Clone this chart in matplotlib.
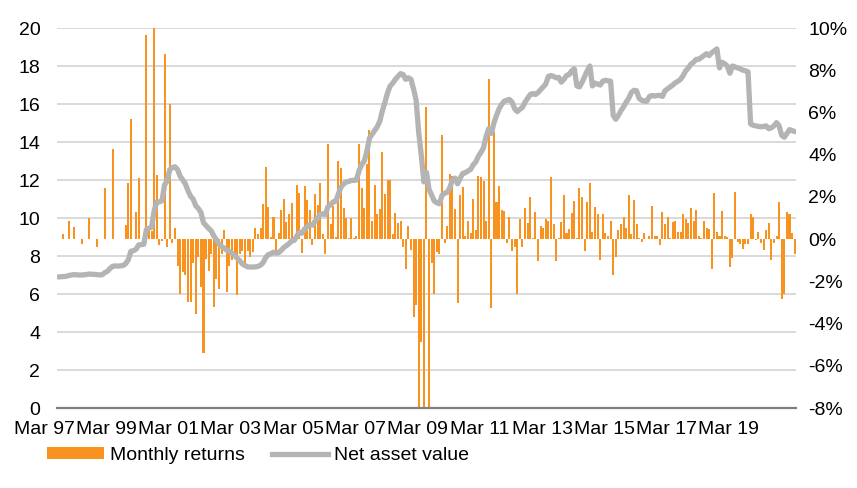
import matplotlib
matplotlib.use("Agg")
import matplotlib.pyplot as plt
import matplotlib.transforms as mtransforms
from matplotlib.patches import Patch
from matplotlib.lines import Line2D
import numpy as np

plt.rcParams['font.family'] = ['Liberation Sans', 'DejaVu Sans']

# ---- data (monthly, Mar 1997 .. Nov 2020) ----
returns = [
    0, 0, 0.22, 0, 0.88, 0, 0.57, 0, 0, -0.25,
    0, 0, 0.98, 0, 0, -0.38, 0, 0, 2.43, 0,
    0, 4.28, 0, 0, 0, 0, 0.65, 2.67, 5.70, 0,
    1.28, 2.91, 0, 0, 9.68, 0.4, 0.4, 10.0, 3.03, -0.3,
    -0.1, 8.78, -0.35, 6.41, -0.2, 0.54, -1.25, -2.6, -1.56, -1.72,
    -2.99, -2.99, -1.14, -3.55, -0.85, -2.27, -5.4, -0.93, -1.49, -0.7,
    -3.22, -1.88, -2.35, -0.7, 0.44, -2.5, -1.25, -1.0, -0.7, -2.67,
    -0.7, -0.54, -1.33, -0.54, -0.85, -0.6, 0.54, 0.25, 0.54, 1.67,
    3.41, 1.52, 0.1, 1.04, -0.54, 0.3, 1.39, 1.91, 0.8, 1.17,
    1.71, 0.08, 2.58, 2.18, -0.65, 2.54, 1.83, 1.36, -0.3, 2.15,
    1.63, 2.67, 0.25, -0.7, 4.49, 0.73, 1.58, 0.1, 3.7, 3.38,
    1.47, 1.01, 0.03, 1.01, 0.03, 0.17, 4.52, 2.43, 1.48, 3.57,
    5.15, 0.88, 2.58, 1.2, 1.44, 4.12, 2.15, 2.78, 2.78, 0.25,
    1.25, 0.76, 0.85, -0.35, -1.41, 0.63, -0.51, -3.7, -3.14, -9.5,
    -4.88, -9.5, 6.26, -9.5, -1.14, -2.59, -0.62, -0.7, 4.94, -0.2,
    0.62, 3.1, 3.0, 1.44, -3.03, 2.1, 2.46, 0.13, 0.88, 0.3,
    1.91, 0.41, 2.97, 2.94, 2.75, 0.88, 7.6, -3.25, 5.07, 1.75,
    2.54, 1.36, 1.33, -0.2, 1.04, -0.54, -0.38, -2.59, 0.93, -0.35,
    1.47, 0.77, 1.99, 0.03, 1.28, -1.04, 0.6, 0.54, 0.93, 0.85,
    2.94, 0.73, -1.04, 0.03, 0.8, 2.07, 0.28, 0.49, 1.23, 1.8,
    0.03, 2.42, 1.99, -0.54, 1.75, 2.65, 0.33, 1.52, 1.2, -1.01,
    1.17, 0.3, 0.17, 0.88, -1.72, -0.85, 0.44, 0.73, 1.07, 0.54,
    2.07, 0.25, 1.86, 0.7, 0.06, -0.14, 0.28, 0.02, 0.17, 1.56,
    0.17, 0.17, -0.3, 1.28, 0.73, 1.07, 0.06, 0.8, 0.85, 0.36,
    0.36, 1.2, 0.93, 0.76, 1.47, 0.88, 1.36, 0.13, 0.06, 0.84,
    0.54, 0.46, -1.41, 2.18, 0.33, 0.17, 1.33, 0.13, 0.1, -1.3,
    -0.88, 2.23, -0.14, -0.25, -0.46, -0.25, -0.22, 1.17, 1.04, -0.06,
    0.33, -0.2, -0.51, 0.44, 0.76, -1.01, -0.2, 0.17, 1.75, -2.83,
    -2.59, 1.28, 1.2, 0.3, -0.7,
]

nav = [
    6.90, 6.91, 6.92, 6.93, 6.97, 7.00, 7.02, 7.01, 7.00, 7.00,
    7.01, 7.03, 7.05, 7.04, 7.03, 7.02, 7.00, 7.02, 7.13, 7.20,
    7.35, 7.46, 7.48, 7.47, 7.48, 7.50, 7.60, 7.80, 8.25, 8.28,
    8.36, 8.58, 8.60, 8.62, 9.40, 9.46, 9.52, 10.40, 10.85, 10.85,
    10.90, 11.75, 11.95, 12.55, 12.65, 12.70, 12.55, 12.20, 12.00, 11.80,
    11.45, 11.15, 11.00, 10.65, 10.50, 10.30, 9.75, 9.60, 9.45, 9.32,
    9.05, 8.85, 8.62, 8.50, 8.42, 8.30, 8.25, 8.15, 8.03, 7.88,
    7.75, 7.58, 7.50, 7.43, 7.42, 7.42, 7.43, 7.45, 7.52, 7.65,
    7.92, 8.08, 8.12, 8.20, 8.15, 8.18, 8.30, 8.45, 8.55, 8.65,
    8.80, 8.82, 9.05, 9.25, 9.20, 9.42, 9.55, 9.65, 9.62, 9.82,
    9.98, 10.20, 10.22, 10.18, 10.60, 10.70, 10.85, 10.88, 11.25, 11.62,
    11.78, 11.90, 11.92, 11.98, 11.98, 12.00, 12.50, 12.80, 13.00, 13.50,
    14.20, 14.40, 14.60, 14.80, 15.10, 15.65, 16.10, 16.60, 16.95, 17.10,
    17.30, 17.45, 17.60, 17.55, 17.30, 17.38, 17.30, 16.80, 16.20, 14.50,
    13.30, 11.90, 12.40, 11.50, 11.20, 10.90, 10.80, 10.75, 11.20, 11.30,
    11.35, 11.60, 12.00, 12.10, 11.80, 12.10, 12.35, 12.38, 12.48, 12.55,
    12.80, 12.95, 13.25, 13.45, 13.70, 14.30, 14.70, 14.45, 15.00, 15.40,
    15.75, 15.98, 16.15, 16.20, 16.24, 16.10, 15.75, 15.60, 15.72, 15.82,
    16.10, 16.30, 16.50, 16.55, 16.50, 16.60, 16.75, 16.90, 17.05, 17.45,
    17.50, 17.45, 17.38, 17.40, 17.15, 17.30, 17.50, 17.55, 17.75, 17.85,
    16.95, 16.90, 17.15, 17.45, 17.75, 18.00, 16.95, 17.10, 17.05, 17.00,
    17.20, 17.25, 17.22, 17.20, 15.40, 15.20, 15.40, 15.65, 15.85, 16.10,
    16.30, 16.60, 16.72, 16.70, 16.30, 16.20, 16.15, 16.15, 16.40, 16.45,
    16.42, 16.45, 16.45, 16.40, 16.70, 16.80, 16.90, 17.00, 17.12, 17.20,
    17.30, 17.50, 17.75, 17.90, 18.10, 18.20, 18.35, 18.35, 18.45, 18.55,
    18.65, 18.55, 18.70, 18.80, 18.90, 17.90, 18.20, 18.12, 18.00, 17.62,
    18.00, 17.95, 17.90, 17.85, 17.78, 17.75, 17.70, 14.95, 14.88, 14.85,
    14.82, 14.80, 14.82, 14.85, 14.70, 14.75, 14.85, 15.02, 14.85, 14.35,
    14.25, 14.45, 14.65, 14.60, 14.55,
]

tick_labels = ['Mar 97', 'Mar 99', 'Mar 01', 'Mar 03', 'Mar 05', 'Mar 07',
               'Mar 09', 'Mar 11', 'Mar 13', 'Mar 15', 'Mar 17', 'Mar 19']
tick_months = [0, 24, 48, 72, 96, 120, 144, 168, 192, 216, 240, 264]
nav_ticks = [0, 2, 4, 6, 8, 10, 12, 14, 16, 18, 20]
ret_ticks = [-8, -6, -4, -2, 0, 2, 4, 6, 8, 10]

ORANGE = '#F7931E'
GREY = '#B4B4B4'
GRID = '#D9D9D9'
FS = 14

fig = plt.figure(figsize=(8.57, 4.88), dpi=100)
ax = fig.add_axes([0.0665, 0.1639, 0.8623, 0.7787])
x = np.arange(len(returns))

ret_lo, ret_hi = -8, 10
nav_lo, nav_hi = 0, 20
# gridlines (at NAV-axis ticks) behind the bars
for g in nav_ticks[1:]:
    yv = ret_lo + (g - nav_lo) * (ret_hi - ret_lo) / (nav_hi - nav_lo)
    ax.axhline(yv, color=GRID, lw=1.4, zorder=0)

ax.bar(x, returns, width=0.78, color=ORANGE, zorder=2, linewidth=0)
ax.set_ylim(ret_lo, ret_hi)
ax.set_xlim(-0.5, len(returns) - 0.5)

ax2 = ax.twinx()
ax2.plot(x, nav, color=GREY, lw=3.8, solid_capstyle='round',
         solid_joinstyle='round', zorder=3)
ax2.set_ylim(nav_lo, nav_hi)

# left axis: NAV ; right axis: monthly returns
ax2.yaxis.tick_left()
ax2.yaxis.set_label_position('left')
ax2.set_yticks(nav_ticks)
ax2.set_yticklabels([str(t) for t in nav_ticks], fontsize=FS)
ax2.tick_params(axis='y', which='both', left=True, right=False,
                labelleft=True, labelright=False, length=0, pad=12)

ax.yaxis.tick_right()
ax.yaxis.set_label_position('right')
ax.set_yticks(ret_ticks)
ax.set_yticklabels([f"{t}%" for t in ret_ticks], fontsize=FS)
ax.tick_params(axis='y', which='both', left=False, right=True,
               labelleft=False, labelright=True, length=0, pad=9)

ax.set_xticks(tick_months)
ax.set_xticklabels(tick_labels, fontsize=FS)
ax.tick_params(axis='x', length=0, pad=9)
offset = mtransforms.ScaledTranslation(-14 / 100, 0, fig.dpi_scale_trans)
for lab in ax.get_xticklabels():
    lab.set_transform(lab.get_transform() + offset)

for s in ['top', 'left', 'right']:
    ax.spines[s].set_visible(False)
ax.spines['bottom'].set_color('#808080')
ax.spines['bottom'].set_linewidth(1.6)
for s in ax2.spines.values():
    s.set_visible(False)

handles = [Patch(facecolor=ORANGE, edgecolor='none'),
           Line2D([0], [0], color=GREY, lw=3.8)]
fig.legend(handles, ['Monthly returns', 'Net asset value'],
           loc='lower left', bbox_to_anchor=(0.035, 0.013), ncol=2,
           frameon=False, fontsize=FS, handlelength=2.9, handleheight=0.55,
           handletextpad=0.3, columnspacing=1.4)

fig.savefig('out.png', dpi=100)
